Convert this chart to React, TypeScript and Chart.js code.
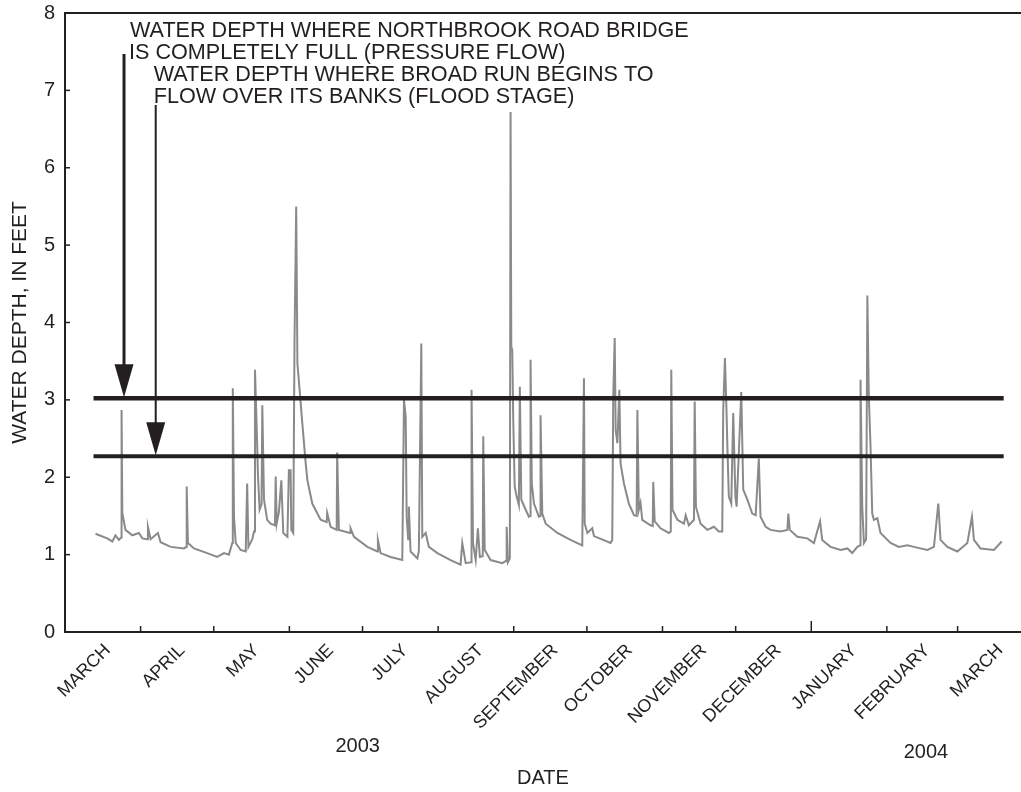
import { useEffect, useRef } from 'react';
import { Chart, registerables } from 'chart.js';

Chart.register(...registerables);

// Days since 1 March 2003
const dayOfRecord = [
  12.5, 17.3, 19.4, 20.7, 22.1, 23.0, 23.2, 23.5, 24.8, 27.6, 30.3, 31.7, 33.7, 34.0, 35.1, 38.1, 39.2, 43.3, 48.8, 49.7,
  49.9, 50.4, 52.9, 58.3, 62.4, 65.2, 67.2, 68.6, 68.8, 69.3, 70.0, 72.0, 74.1, 74.7, 75.2, 76.8, 77.5, 77.9, 78.6, 79.1,
  79.8, 80.6, 80.9, 81.6, 82.9, 84.3, 86.1, 86.4, 86.8, 87.7, 88.7, 89.5, 91.2, 91.8, 92.5, 92.8, 93.6, 94.1, 94.8, 95.3,
  96.2, 97.3, 98.7, 99.4, 101.4, 104.8, 107.3, 107.5, 108.9, 111.4, 111.6, 112.3, 116.9, 117.1, 118.5, 124.0, 128.1, 128.3, 129.4, 133.5,
  138.3, 139.0, 139.7, 140.1, 140.7, 141.0, 141.7, 144.5, 145.1, 146.1, 146.5, 147.9, 149.2, 152.7, 158.1, 162.2, 162.9, 164.3, 166.5, 166.7,
  167.3, 168.4, 169.3, 170.1, 171.3, 171.5, 172.1, 174.5, 179.3, 180.9, 181.1, 181.6, 182.4, 182.7, 183.0, 183.4, 183.8, 184.4, 185.2, 186.1,
  186.5, 187.1, 188.9, 190.2, 190.7, 190.9, 191.4, 192.3, 194.3, 194.8, 195.0, 195.7, 197.1, 201.9, 207.3, 212.1, 212.8, 213.1, 214.2, 216.2,
  216.9, 223.7, 224.4, 224.8, 225.4, 225.8, 226.5, 227.3, 227.8, 229.2, 231.2, 233.3, 234.4, 234.7, 235.3, 236.0, 236.7, 240.1, 241.0, 241.2,
  241.8, 244.2, 247.6, 248.4, 248.6, 249.1, 251.1, 253.8, 254.5, 255.8, 257.9, 258.2, 258.7, 260.6, 263.4, 266.1, 268.1, 269.5, 269.9, 270.6,
  271.2, 271.6, 272.2, 273.2, 274.0, 274.9, 275.4, 277.3, 278.1, 279.8, 281.8, 283.2, 284.5, 285.2, 287.3, 289.3, 293.4, 296.2, 296.6, 297.2,
  300.3, 304.4, 307.1, 309.6, 310.5, 313.9, 318.0, 320.8, 322.8, 324.9, 326.0, 326.2, 326.9, 327.6, 328.5, 329.0, 329.6, 330.3, 331.0, 331.7,
  333.1, 334.4, 338.5, 341.9, 345.4, 348.1, 353.6, 356.3, 358.1, 359.0, 361.8, 365.9, 370.0, 371.9, 372.7, 375.4, 380.9, 384.1,
];

// Water depth, in feet
const waterDepth = [
  1.27, 1.21, 1.17, 1.25, 1.19, 1.22, 2.87, 1.54, 1.32, 1.25, 1.28, 1.21, 1.20, 1.36, 1.20, 1.28, 1.16, 1.10, 1.08, 1.10,
  1.88, 1.15, 1.08, 1.02, 0.97, 1.02, 1.00, 1.15, 3.15, 1.49, 1.15, 1.06, 1.04, 1.92, 1.10, 1.20, 1.30, 3.39, 2.65, 2.05,
  1.58, 1.65, 2.93, 1.71, 1.45, 1.40, 1.38, 2.01, 1.40, 1.55, 1.96, 1.28, 1.23, 2.09, 2.09, 1.32, 1.28, 3.73, 5.50, 3.47,
  3.13, 2.70, 2.18, 1.96, 1.66, 1.45, 1.42, 1.54, 1.36, 1.32, 2.32, 1.32, 1.28, 1.34, 1.23, 1.10, 1.04, 1.19, 1.02, 0.97,
  0.93, 3.00, 2.78, 1.49, 1.20, 1.62, 1.04, 0.95, 1.05, 3.73, 1.23, 1.28, 1.10, 1.02, 0.93, 0.87, 1.15, 0.89, 0.90, 3.13,
  1.15, 0.93, 1.34, 0.97, 0.98, 2.53, 1.06, 0.93, 0.89, 0.92, 1.36, 0.90, 0.95, 6.72, 3.69, 3.64, 2.74, 1.88, 1.75, 1.64,
  3.17, 1.71, 1.58, 1.49, 1.50, 3.52, 1.92, 1.66, 1.49, 1.50, 2.80, 1.53, 1.40, 1.28, 1.19, 1.12, 3.28, 1.40, 1.28, 1.34,
  1.24, 1.15, 1.19, 3.04, 3.80, 2.61, 2.44, 3.13, 2.18, 1.92, 1.66, 1.51, 1.50, 2.87, 1.58, 1.67, 1.45, 1.38, 1.37, 1.94,
  1.43, 1.34, 1.28, 1.30, 3.39, 1.58, 1.45, 1.40, 1.51, 1.38, 1.45, 2.98, 1.62, 1.40, 1.32, 1.36, 1.30, 1.30, 2.87, 3.54,
  2.91, 2.40, 1.75, 1.66, 2.83, 1.75, 1.62, 3.10, 1.84, 1.71, 1.53, 1.51, 2.24, 1.49, 1.36, 1.32, 1.30, 1.32, 1.53, 1.32,
  1.23, 1.21, 1.15, 1.43, 1.19, 1.10, 1.06, 1.08, 1.02, 1.10, 1.12, 3.26, 1.62, 1.15, 1.20, 4.35, 3.04, 2.40, 1.53, 1.45,
  1.47, 1.28, 1.15, 1.10, 1.12, 1.10, 1.06, 1.10, 1.66, 1.19, 1.10, 1.04, 1.15, 1.49, 1.19, 1.08, 1.06, 1.17,
];

const monthLabels = [
  'MARCH', 'APRIL', 'MAY', 'JUNE', 'JULY', 'AUGUST', 'SEPTEMBER',
  'OCTOBER', 'NOVEMBER', 'DECEMBER', 'JANUARY', 'FEBRUARY', 'MARCH',
];
const monthStartDays = [0, 31, 61, 92, 122, 153, 184, 214, 245, 275, 306, 337, 366, 397];
const yearStartDay = 306;
const yTickValues = [0, 1, 2, 3, 4, 5, 6, 7, 8];

const pressureFlowDepth = 3.02;
const floodStageDepth = 2.27;
const referenceLineDays = [11.7, 384.9];

const arrowPressure = { day: 24.2, fromDepth: 7.47, toDepth: pressureFlowDepth };
const arrowFlood = { day: 37.2, fromDepth: 6.81, toDepth: floodStageDepth };

const annotationPressure = ['WATER DEPTH WHERE NORTHBROOK ROAD BRIDGE', 'IS COMPLETELY FULL (PRESSURE FLOW)'];
const annotationFlood = ['WATER DEPTH WHERE BROAD RUN BEGINS TO', 'FLOW OVER ITS BANKS (FLOOD STAGE)'];
const yearLabels = [
  { text: '2003', day: 120 },
  { text: '2004', day: 353 },
];

const INK = '#231f20';
const FONT = '"Liberation Sans", Arial, Helvetica, sans-serif';

// label anchor a little past mid-month (label's upper-right end sits there)
const monthLabelDays = monthLabels.map((_, i) => (monthStartDays[i] + monthStartDays[i + 1]) / 2 + 2);

export default function App() {
  const canvasRef = useRef<HTMLCanvasElement | null>(null);

  useEffect(() => {
    const canvas = canvasRef.current;
    if (!canvas) return;

    const overlay = {
      id: 'overlay',
      afterDraw(chart: any) {
        const { ctx, chartArea, scales } = chart;
        const xs = scales.x;
        const ys = scales.y;
        ctx.save();
        ctx.strokeStyle = INK;
        ctx.fillStyle = INK;
        // top frame
        ctx.lineWidth = 2;
        ctx.beginPath();
        ctx.moveTo(chartArea.left, chartArea.top);
        ctx.lineTo(chartArea.right, chartArea.top);
        ctx.stroke();
        // inward y ticks
        ctx.lineWidth = 1.5;
        yTickValues.forEach((v) => {
          const y = ys.getPixelForValue(v);
          ctx.beginPath();
          ctx.moveTo(chartArea.left, y);
          ctx.lineTo(chartArea.left + 5, y);
          ctx.stroke();
        });
        // inward x ticks at month boundaries
        monthStartDays.forEach((d) => {
          if (d <= 0 || d > xs.max) return;
          const x = xs.getPixelForValue(d);
          const len = d === yearStartDay ? 11 : 6;
          ctx.beginPath();
          ctx.moveTo(x, chartArea.bottom);
          ctx.lineTo(x, chartArea.bottom - len);
          ctx.stroke();
        });
        // arrows
        const drawArrow = (a: { day: number; fromDepth: number; toDepth: number }, w: number) => {
          const x = xs.getPixelForValue(a.day);
          const y0 = ys.getPixelForValue(a.fromDepth);
          const tip = ys.getPixelForValue(a.toDepth) - 1;
          const headH = 33;
          const headW = 19;
          ctx.lineWidth = w;
          ctx.beginPath();
          ctx.moveTo(x, y0);
          ctx.lineTo(x, tip - headH + 2);
          ctx.stroke();
          ctx.beginPath();
          ctx.moveTo(x - headW / 2, tip - headH);
          ctx.lineTo(x + headW / 2, tip - headH);
          ctx.lineTo(x, tip);
          ctx.closePath();
          ctx.fill();
        };
        drawArrow(arrowPressure, 3);
        drawArrow(arrowFlood, 2);
        // annotation text
        ctx.font = `21.6px ${FONT}`;
        ctx.textAlign = 'left';
        ctx.textBaseline = 'alphabetic';
        const x1 = xs.getPixelForValue(arrowPressure.day) + 6;
        const x2 = xs.getPixelForValue(arrowFlood.day) - 2;
        ctx.fillText(annotationPressure[0], x1, 37);
        ctx.fillText(annotationPressure[1], x1 - 1, 58.5);
        ctx.fillText(annotationFlood[0], x2, 81);
        ctx.fillText(annotationFlood[1], x2, 102.5);
        // year labels
        ctx.font = `20px ${FONT}`;
        ctx.textAlign = 'center';
        ctx.textBaseline = 'middle';
        ctx.fillText(yearLabels[0].text, xs.getPixelForValue(yearLabels[0].day), 746);
        ctx.fillText(yearLabels[1].text, xs.getPixelForValue(yearLabels[1].day), 752);
        ctx.restore();
      },
    };

    const chart = new Chart(canvas, {
      type: 'line',
      data: {
        datasets: [
          {
            label: 'Pressure flow',
            data: referenceLineDays.map((d) => ({ x: d, y: pressureFlowDepth })),
            borderColor: INK,
            borderWidth: 4.5,
            pointRadius: 0,
            order: 1,
          },
          {
            label: 'Flood stage',
            data: referenceLineDays.map((d) => ({ x: d, y: floodStageDepth })),
            borderColor: INK,
            borderWidth: 4,
            pointRadius: 0,
            order: 1,
          },
          {
            label: 'Water depth',
            data: dayOfRecord.map((d, i) => ({ x: d, y: waterDepth[i] })),
            borderColor: '#8a8a8a',
            borderWidth: 2,
            pointRadius: 0,
            tension: 0,
            order: 2,
          },
        ],
      },
      options: {
        responsive: false,
        animation: false,
        events: [],
        layout: { padding: { top: 13, right: 0, left: 0, bottom: 0 } },
        plugins: { legend: { display: false }, tooltip: { enabled: false } },
        scales: {
          x: {
            type: 'linear',
            min: 0,
            max: 392,
            grid: { display: false, drawTicks: false },
            border: { display: true, color: INK, width: 2 },
            afterBuildTicks: (axis: any) => {
              axis.ticks = monthLabelDays.map((v) => ({ value: v }));
            },
            afterFit: (axis: any) => {
              axis.height = 160;
              axis.paddingLeft = 0;
              axis.paddingRight = 0;
            },
            ticks: {
              autoSkip: false,
              maxRotation: 45,
              minRotation: 45,
              padding: 8,
              color: INK,
              font: { family: FONT, size: 18 },
              callback: (_v: any, i: number) => monthLabels[i],
            },
            title: {
              display: true,
              text: 'DATE',
              color: INK,
              font: { family: FONT, size: 20 },
              padding: { top: 0, bottom: 2 },
            },
          },
          y: {
            type: 'linear',
            min: 0,
            max: 8,
            grid: { display: false, drawTicks: false },
            border: { display: true, color: INK, width: 2 },
            afterFit: (axis: any) => {
              axis.width = 65;
              axis.paddingTop = 0;
              axis.paddingBottom = 0;
            },
            ticks: {
              stepSize: 1,
              padding: 10,
              color: INK,
              font: { family: FONT, size: 20 },
            },
            title: {
              display: true,
              text: 'WATER DEPTH, IN FEET',
              color: INK,
              font: { family: FONT, size: 21 },
              padding: { top: 8, bottom: 0 },
            },
          },
        },
      },
      plugins: [overlay],
    });

    return () => chart.destroy();
  }, []);

  return (
    <div style={{ position: 'absolute', left: 0, top: 0, width: 1021, height: 792, background: '#fff' }}>
      <canvas ref={canvasRef} width={1021} height={792} style={{ display: 'block' }} />
    </div>
  );
}
